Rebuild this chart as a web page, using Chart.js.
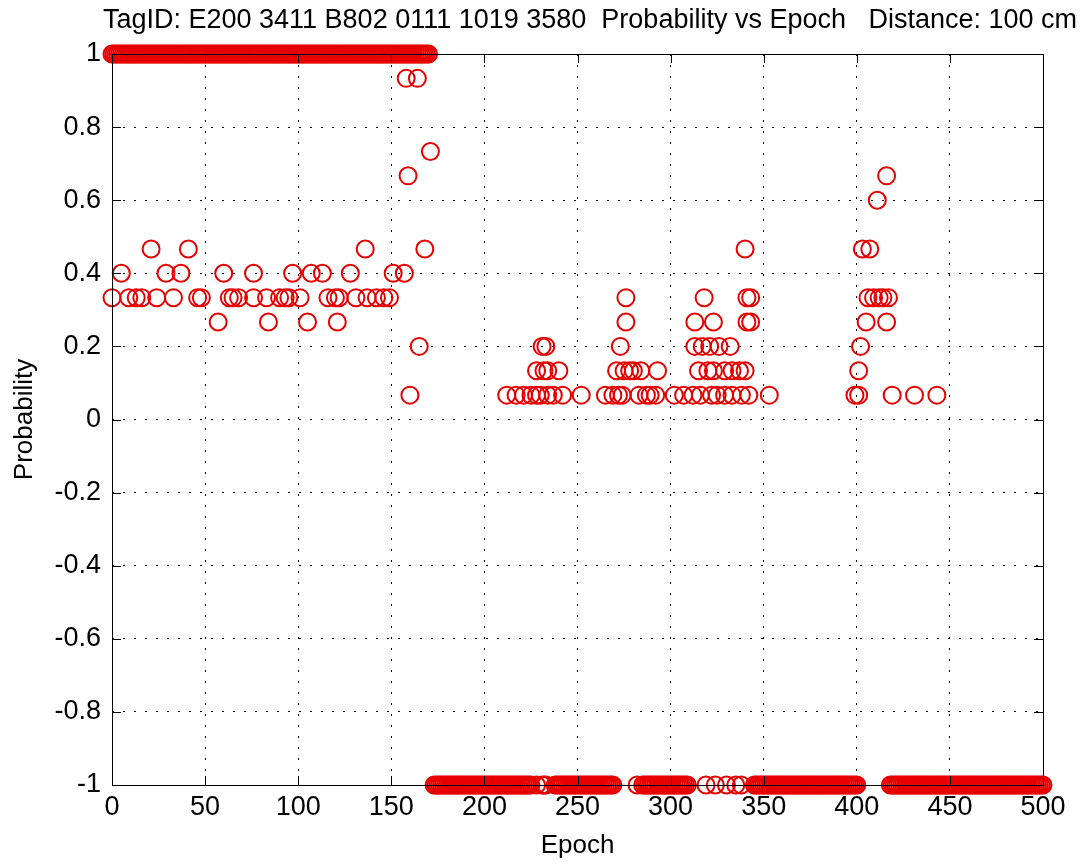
<!DOCTYPE html>
<html>
<head>
<meta charset="utf-8">
<script src="https://cdn.jsdelivr.net/npm/chart.js@4"></script>
<style>
  body { margin: 0; background: #fff; }
  #wrap { width: 1091px; height: 867px; }
</style>
</head>
<body>
<div id="wrap"><canvas id="chart" width="1091" height="867"></canvas></div>
<script>
const chartTitle = 'TagID: E200 3411 B802 0111 1019 3580  Probability vs Epoch   Distance: 100 cm';

// runs of consecutive epochs sitting at probability 1 / -1 (start, end)
const onesRuns = [[0, 170]];
const minusOneRuns = [[173, 225], [228, 228], [231, 233], [238, 269], [282, 282], [285, 309],
  [319, 319], [324, 324], [330, 330], [335, 335], [338, 338], [345, 400], [418, 500]];

// scattered epochs per probability level
const p933 = [158, 164];
const p733 = [171];
const p667 = [159, 416];
const p600 = [411];
const p467 = [21, 41, 136, 168, 340, 403, 407];
const p400 = [5, 29, 37, 60, 76, 97, 107, 113, 128, 151, 157];
const p333 = [0, 9, 13, 16, 24, 33, 46, 48, 63, 65, 68, 76, 83, 90, 93, 95, 101, 116, 120, 122,
  131, 137, 142, 146, 149, 276, 318, 341, 343, 406, 409, 412, 414, 417];
const p267 = [57, 84, 105, 121, 276, 313, 323, 341, 343, 405, 416];
const p200 = [165, 231, 233, 273, 313, 317, 321, 326, 332, 402];
const p133 = [228, 232, 234, 240, 271, 275, 278, 280, 284, 293, 315, 320, 323, 329, 333, 337, 340, 401];
const p067 = [160, 212, 217, 221, 225, 228, 230, 234, 237, 242, 252, 265, 269, 272, 274, 283, 287,
  289, 292, 302, 307, 312, 316, 322, 325, 329, 333, 338, 342, 353, 399, 401, 419, 431, 443];

const xTicks = { min: 0, max: 500, step: 50 };
const yTicks = { min: -1, max: 1, step: 0.2 };

const points = [];
onesRuns.forEach(([a, b]) => { for (let e = a; e <= b; e++) points.push({ x: e, y: 1 }); });
minusOneRuns.forEach(([a, b]) => { for (let e = a; e <= b; e++) points.push({ x: e, y: -1 }); });
[[p933, 14 / 15], [p733, 11 / 15], [p667, 10 / 15], [p600, 9 / 15], [p467, 7 / 15], [p400, 6 / 15],
 [p333, 5 / 15], [p267, 4 / 15], [p200, 3 / 15], [p133, 2 / 15], [p067, 1 / 15]]
  .forEach(([arr, v]) => arr.forEach(e => points.push({ x: e, y: v })));

const FONT = '"Liberation Sans", Arial, sans-serif';

const framePlugin = {
  id: 'frame',
  afterDraw(chart) {
    const { ctx, chartArea: a, scales } = chart;
    ctx.save();
    ctx.strokeStyle = '#000';
    ctx.lineWidth = 1;
    ctx.strokeRect(a.left + 0.5, a.top + 0.5, a.right - a.left, a.bottom - a.top);
    const tl = 9;
    ctx.beginPath();
    scales.x.ticks.forEach(t => {
      const px = Math.round(scales.x.getPixelForValue(t.value)) + 0.5;
      ctx.moveTo(px, a.bottom); ctx.lineTo(px, a.bottom - tl);
      ctx.moveTo(px, a.top); ctx.lineTo(px, a.top + tl);
    });
    scales.y.ticks.forEach(t => {
      const py = Math.round(scales.y.getPixelForValue(t.value)) + 0.5;
      ctx.moveTo(a.left, py); ctx.lineTo(a.left + tl, py);
      ctx.moveTo(a.right, py); ctx.lineTo(a.right - tl, py);
    });
    ctx.stroke();
    ctx.fillStyle = '#000';
    ctx.font = '27px ' + FONT;
    ctx.textAlign = 'center';
    ctx.textBaseline = 'alphabetic';
    ctx.fillText(chartTitle, 590, 28);
    ctx.restore();
  }
};

new Chart(document.getElementById('chart'), {
  type: 'scatter',
  data: {
    datasets: [{
      data: points,
      pointStyle: 'circle',
      pointRadius: 8.5,
      pointBorderWidth: 2,
      pointBorderColor: 'rgb(230,0,0)',
      pointBackgroundColor: 'rgba(0,0,0,0)',
      clip: false
    }]
  },
  options: {
    responsive: false,
    animation: false,
    layout: { padding: { top: 54, right: 48, left: 0, bottom: 0 } },
    plugins: { legend: { display: false }, tooltip: { enabled: false } },
    scales: {
      x: {
        type: 'linear',
        min: xTicks.min, max: xTicks.max,
        afterFit(s) { s.height = 82; },
        ticks: { stepSize: xTicks.step, autoSkip: false, maxRotation: 0, padding: 6, color: '#000', font: { family: FONT, size: 27 } },
        grid: { color: '#000', lineWidth: 1, drawTicks: false, borderDash: [2, 9] },
        border: { display: false, dash: [2, 9] },
        title: { display: true, text: 'Epoch', color: '#000', font: { family: FONT, size: 26 }, padding: { bottom: 6 } }
      },
      y: {
        min: yTicks.min, max: yTicks.max,
        afterFit(s) { s.width = 112; },
        ticks: {
          stepSize: yTicks.step, autoSkip: false, padding: 11, color: '#000', font: { family: FONT, size: 27 },
          callback: v => String(Math.round(v * 10) / 10)
        },
        grid: { color: '#000', lineWidth: 1, drawTicks: false, borderDash: [2, 9] },
        border: { display: false, dash: [2, 9] },
        title: { display: true, text: 'Probability', color: '#000', font: { family: FONT, size: 26 }, padding: { top: 9 } }
      }
    }
  },
  plugins: [framePlugin]
});
</script>
</body>
</html>
